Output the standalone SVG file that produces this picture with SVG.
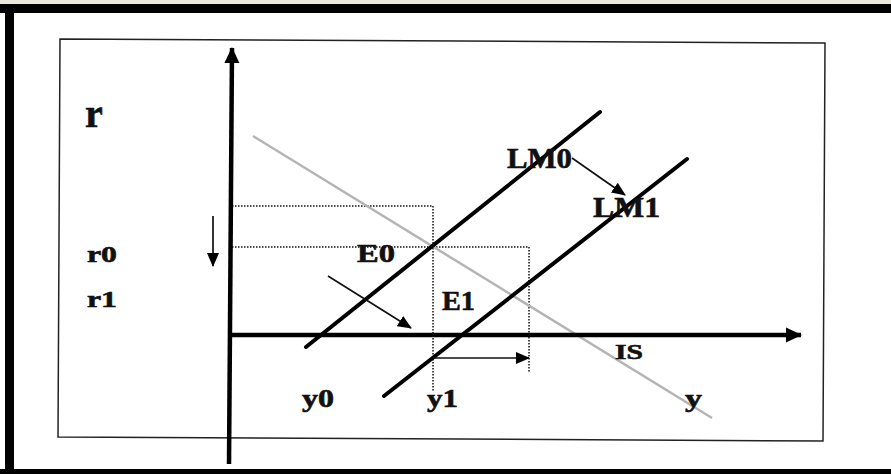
<svg xmlns="http://www.w3.org/2000/svg" width="891" height="474" viewBox="0 0 891 474">
<style>
.lbl{font-family:"Liberation Serif","Times New Roman",serif;font-weight:bold;fill:#111;stroke:#111;stroke-width:0.6}
.dot{stroke:#111;stroke-width:1.5;stroke-dasharray:1.5 1.5;fill:none}
.thin{stroke:#111;stroke-width:1.7;fill:none}
.lm{stroke:#000;stroke-width:4;fill:none;stroke-linecap:round}
.axis{stroke:#000;stroke-width:4.5;fill:none}
</style>
<defs>
<marker id="ah" markerUnits="userSpaceOnUse" markerWidth="14" markerHeight="14" viewBox="0 0 14 14" refX="13" refY="7" orient="auto">
<path d="M0,1 L14,7 L0,13 Z" fill="#000"/>
</marker>
<marker id="axh" markerUnits="userSpaceOnUse" markerWidth="16" markerHeight="16" viewBox="0 0 16 16" refX="15" refY="8" orient="auto">
<path d="M0,0.5 L16,8 L0,15.5 Z" fill="#000"/>
</marker>
</defs>
<rect width="891" height="474" fill="#fff"/>
<rect x="0" y="0" width="891" height="5" fill="#ece9dc"/>
<rect x="0" y="4" width="891" height="9" fill="#000"/>
<rect x="5" y="4" width="9" height="470" fill="#000"/>
<rect x="0" y="469" width="891" height="5" fill="#000"/>
<g id="frame">
<polygon points="60,39 825,43 823,441 58,437" fill="none" stroke="#222" stroke-width="1.5"/>
</g>
<g id="guides">
<polyline class="dot" points="232,206 433,206 433,392"/>
<polyline class="dot" points="232,247 529,247 529,373"/>
</g>
<g id="is-curve">
<line x1="253" y1="136" x2="712" y2="418" stroke="#b4b4b4" stroke-width="2.5"/>
</g>
<g id="axes">
<line class="axis" x1="229" y1="464" x2="232" y2="48" marker-end="url(#axh)"/>
<line class="axis" x1="229" y1="335" x2="801" y2="335" marker-end="url(#axh)"/>
</g>
<g id="lm-curves">
<line class="lm" x1="306" y1="347" x2="600" y2="112"/>
<line class="lm" x1="384" y1="396" x2="687" y2="159"/>
</g>
<g id="connectors">
<line class="thin" x1="213" y1="216" x2="213" y2="266" marker-end="url(#ah)"/>
<line class="thin" x1="328" y1="276" x2="411" y2="328" marker-end="url(#ah)"/>
<line class="thin" x1="572" y1="158" x2="625" y2="195" marker-end="url(#ah)"/>
<line class="thin" x1="433" y1="358" x2="529" y2="358" marker-end="url(#ah)"/>
</g>
<g id="labels">
<text class="lbl" x="85" y="127" font-size="40">r</text>
<text class="lbl" x="87" y="262" font-size="23" textLength="30" lengthAdjust="spacingAndGlyphs">r0</text>
<text class="lbl" x="87" y="307" font-size="23" textLength="30" lengthAdjust="spacingAndGlyphs">r1</text>
<text class="lbl" x="357" y="262" font-size="26" textLength="38" lengthAdjust="spacingAndGlyphs">E0</text>
<text class="lbl" x="442" y="310" font-size="27" textLength="33" lengthAdjust="spacingAndGlyphs">E1</text>
<text class="lbl" x="507" y="168" font-size="29" textLength="65" lengthAdjust="spacingAndGlyphs">LM0</text>
<text class="lbl" x="593" y="217" font-size="29" textLength="67" lengthAdjust="spacingAndGlyphs">LM1</text>
<text class="lbl" x="615" y="359" font-size="22" textLength="28" lengthAdjust="spacingAndGlyphs">IS</text>
<text class="lbl" x="302" y="407" font-size="25" textLength="32" lengthAdjust="spacingAndGlyphs">y0</text>
<text class="lbl" x="427" y="407" font-size="25" textLength="31" lengthAdjust="spacingAndGlyphs">y1</text>
<text class="lbl" x="685" y="407" font-size="25" textLength="17" lengthAdjust="spacingAndGlyphs">y</text>
</g>
</svg>
